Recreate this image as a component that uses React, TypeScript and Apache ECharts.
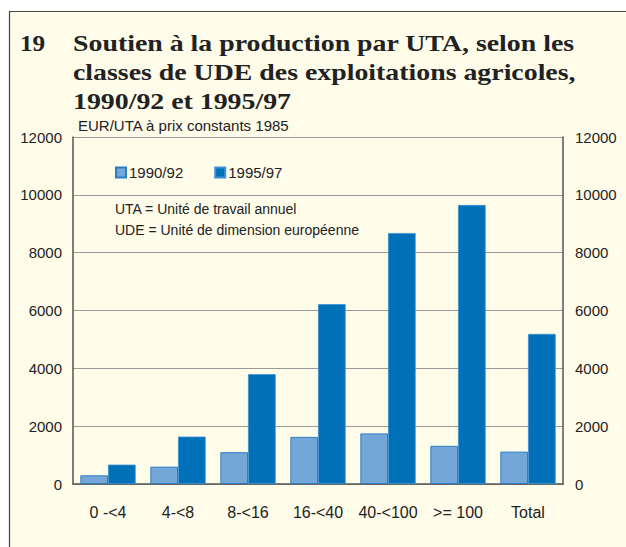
import React, { useEffect, useRef } from "react";
import * as echarts from "echarts";

const categories = ["0 -<4", "4-<8", "8-<16", "16-<40", "40-<100", ">= 100", "Total"];
const series9092 = [300, 600, 1100, 1630, 1750, 1320, 1120];
const series9597 = [670, 1640, 3800, 6220, 8680, 9650, 5190];
const seriesNames = ["1990/92", "1995/97"];
const titleLines = [
  "Soutien à la production par UTA, selon les",
  "classes de UDE des exploitations agricoles,",
  "1990/92 et 1995/97",
];
const titleNumber = "19";
const unitLabel = "EUR/UTA à prix constants 1985";
const notes = ["UTA = Unité de travail annuel", "UDE = Unité de dimension européenne"];

const BG = "#FFFCEA";
const LIGHT = "#74A6D7";
const DARK = "#0071B9";
const SANS = "Liberation Sans";
const SERIF = "Liberation Serif";

export default function App() {
  const ref = useRef<HTMLDivElement>(null);
  useEffect(() => {
    if (!ref.current) return;
    const chart = echarts.init(ref.current, null, { renderer: "svg" });
    const axisLabel = { color: "#222", fontFamily: SANS, fontSize: 15, formatter: (v: number) => String(v) };
    const valueAxisBase = {
      type: "value" as const,
      min: 0,
      max: 12000,
      interval: 2000,
      axisLine: { show: true, lineStyle: { color: "#555", width: 1.5 } },
      axisTick: { show: false },
      splitLine: { show: true, lineStyle: { color: "#9a9a9a", width: 1 } },
    };
    const titleStyle = {
      fontFamily: SERIF,
      fontWeight: "bold",
      fontSize: 24,
      fill: "#222",
      verticalAlign: "bottom",
    };
    chart.setOption({
      animation: false,
      backgroundColor: "#ffffff",
      graphic: [
        {
          type: "rect",
          z: -10,
          shape: { x: 9.5, y: 11.5, width: 640, height: 560 },
          style: { fill: BG, stroke: "#444", lineWidth: 1.2 },
        },
        {
          type: "text",
          x: 20,
          y: 55,
          scaleX: 1.05,
          style: { ...titleStyle, text: titleNumber },
        },
        ...titleLines.map((t, i) => ({
          type: "text",
          x: 73,
          y: 55 + i * 29,
          scaleX: 1.16,
          style: { ...titleStyle, text: t },
        })),
        {
          type: "text",
          x: 78,
          y: 125,
          style: { text: unitLabel, fontFamily: SANS, fontSize: 15, fill: "#222", verticalAlign: "middle" },
        },
        ...notes.map((t, i) => ({
          type: "text",
          x: 115,
          y: 209 + i * 21,
          style: { text: t, fontFamily: SANS, fontSize: 14, fill: "#222", verticalAlign: "middle" },
        })),
      ],
      legend: {
        left: 110,
        top: 160,
        itemWidth: 10,
        itemHeight: 10,
        itemGap: 31,
        icon: "rect",
        textStyle: { color: "#222", fontFamily: SANS, fontSize: 15, padding: [0, 0, 0, -2] },
        data: seriesNames,
      },
      grid: { left: 73, right: 63, top: 137, bottom: 63 },
      xAxis: {
        type: "category",
        data: categories,
        axisLine: { show: true, lineStyle: { color: "#555", width: 1.5 } },
        axisTick: { show: false },
        axisLabel: { color: "#222", fontFamily: SANS, fontSize: 16, margin: 20, interval: 0 },
      },
      yAxis: [
        { ...valueAxisBase, position: "left", axisLabel: { ...axisLabel, margin: 11 } },
        { ...valueAxisBase, position: "right", axisLabel: { ...axisLabel, margin: 12 }, splitLine: { show: false } },
      ],
      series: [
        {
          name: seriesNames[0],
          type: "bar",
          data: series9092,
          barGap: "0%",
          barCategoryGap: "21%",
          itemStyle: { color: LIGHT, borderColor: "#2A7FC3", borderWidth: 1 },
        },
        {
          name: seriesNames[1],
          type: "bar",
          data: series9597,
          itemStyle: { color: DARK, borderColor: "#3C92D2", borderWidth: 0.8 },
        },
      ],
    });
    return () => chart.dispose();
  }, []);
  return (
    <div
      ref={ref}
      style={{ position: "absolute", left: 0, top: 0, width: 626, height: 547 }}
    />
  );
}
